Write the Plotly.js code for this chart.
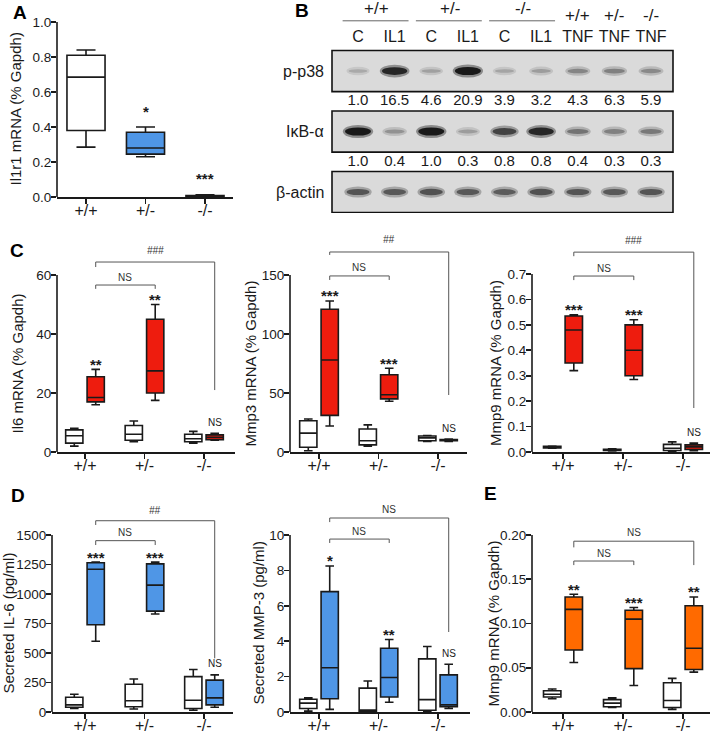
<!DOCTYPE html>
<html><head><meta charset="utf-8">
<script src="https://cdn.plot.ly/plotly-3.0.1.min.js"></script>
<style>html,body{margin:0;padding:0;background:#fff}#chart{width:713px;height:734px}</style>
</head><body><div id="chart"></div>
<script>
// ---------------- DATA ----------------
const genotypes = ['+/+', '+/-', '-/-'];
// five-number summaries per genotype: [lowerWhisker, q1, median, q3, upperWhisker]
const il1r1 = [[0.285, 0.38, 0.685, 0.81, 0.84], [0.23, 0.245, 0.28, 0.37, 0.40], [0.002, 0.004, 0.006, 0.009, 0.012]];
const il1r1Sig = ['', '*', '***'];

const il6Ctrl = [[2, 3, 5.5, 7.5, 8], [3.5, 4, 6, 9, 10.5], [3, 3.5, 4.5, 6, 7]];
const il6IL1  = [[16, 17, 18.5, 25.5, 28], [17.5, 20, 27.5, 45, 50], [4, 4.2, 5, 5.8, 6.3]];
const il6Sig  = ['**', '**', 'NS'];

const mmp3Ctrl = [[1, 4, 16, 26.5, 28], [5, 6, 9.5, 19.5, 23], [9, 9.5, 12, 13.5, 14]];
const mmp3IL1  = [[22, 31, 78, 121, 128], [43, 45, 48.5, 65.5, 71], [9, 9.5, 10, 10.5, 11]];
const mmp3Sig  = ['***', '***', 'NS'];

const mmp9Ctrl = [[0.015, 0.016, 0.019, 0.022, 0.023], [0.004, 0.006, 0.008, 0.011, 0.013], [0.003, 0.006, 0.015, 0.03, 0.04]];
const mmp9IL1  = [[0.32, 0.35, 0.48, 0.535, 0.54], [0.285, 0.30, 0.40, 0.50, 0.52], [0.005, 0.01, 0.02, 0.028, 0.035]];
const mmp9Sig  = ['***', '***', 'NS'];

const secIl6Ctrl = [[30, 40, 60, 125, 150], [25, 45, 95, 235, 280], [15, 30, 100, 300, 360]];
const secIl6IL1  = [[600, 740, 1210, 1265, 1270], [830, 855, 1075, 1255, 1270], [40, 60, 120, 270, 315]];
const secIl6Sig  = ['***', '***', 'NS'];

const secMmp3Ctrl = [[0.05, 0.2, 0.5, 0.72, 0.8], [0.02, 0.05, 0.1, 1.35, 1.75], [0.05, 0.1, 0.7, 3.0, 3.7]];
const secMmp3IL1  = [[0.15, 0.75, 2.5, 6.8, 8.25], [0.55, 0.85, 1.95, 3.6, 4.1], [0.2, 0.3, 0.4, 2.1, 2.7]];
const secMmp3Sig  = ['*', '**', 'NS'];

const mmp9eCtrl = [[0.015, 0.017, 0.02, 0.024, 0.026], [0.005, 0.006, 0.01, 0.014, 0.016], [0.003, 0.005, 0.013, 0.033, 0.038]];
const mmp9eTrt  = [[0.056, 0.07, 0.116, 0.13, 0.133], [0.03, 0.049, 0.105, 0.115, 0.118], [0.045, 0.048, 0.072, 0.12, 0.13]];
const mmp9eSig  = ['**', '***', '**'];

// Western blot (panel B)
const lanes = ['C', 'IL1', 'C', 'IL1', 'C', 'IL1', 'TNF', 'TNF', 'TNF'];
const blotRows = ['p-p38', 'I\u03baB-\u03b1', '\u03b2-actin'];
const pp38Quant = ['1.0', '16.5', '4.6', '20.9', '3.9', '3.2', '4.3', '6.3', '5.9'];
const ikbQuant  = ['1.0', '0.4', '1.0', '0.3', '0.8', '0.8', '0.4', '0.3', '0.3'];
// visual band darkness (0 = none, 1 = black)
const pp38Band  = [0.15, 0.88, 0.2, 0.95, 0.18, 0.22, 0.35, 0.38, 0.33];
const ikbBand   = [0.95, 0.28, 0.95, 0.22, 0.72, 0.88, 0.45, 0.38, 0.42];
const actinBand = [0.62, 0.6, 0.64, 0.6, 0.58, 0.64, 0.62, 0.6, 0.62];

// ---------------- LAYOUT ----------------
const W = 713, H = 734;
const FONT = 'Liberation Sans, Arial, Helvetica, sans-serif';
const INK = '#1a1a1a';
const BLUE = '#4f96e6', RED = '#ee1c0e', ORANGE = '#ff6a00', WHITE = '#ffffff';
const OFF = 0.18, BW = 0.29;
const sfx = n => (n === 1 ? '' : String(n));

const layout = {
  width: W, height: H, autosize: false,
  margin: {l: 0, r: 0, t: 0, b: 0},
  paper_bgcolor: '#fff', plot_bgcolor: 'rgba(0,0,0,0)',
  showlegend: false,
  font: {family: FONT, size: 14, color: INK},
  shapes: [], annotations: []
};
const traces = [];

const panels = [
  {n: 1, L: 57, R: 233, t0: 86, t2: 205, B: 197, Tp: 22, T: 1.0, E: 1.0, dt: 0.2, fmt: '.1f', title: 'Il1r1 mRNA (% Gapdh)', tx: 15},
  {n: 2, L: 57, R: 235, t0: 85, t2: 204, B: 452, Tp: 275, T: 60, E: 66, dt: 20, fmt: 'd', title: 'Il6 mRNA (% Gapdh)', tx: 17},
  {n: 3, L: 290, R: 467, t0: 319, t2: 438, B: 452, Tp: 275, T: 150, E: 172, dt: 50, fmt: 'd', title: 'Mmp3 mRNA (% Gapdh)', tx: 250},
  {n: 4, L: 532, R: 710, t0: 563, t2: 683, B: 452, Tp: 274, T: 0.7, E: 0.8, dt: 0.1, fmt: '.1f', title: 'Mmp9 mRNA (% Gapdh)', tx: 495},
  {n: 5, L: 52, R: 233, t0: 85, t2: 204, B: 712, Tp: 535, T: 1500, E: 1640, dt: 250, fmt: 'd', title: 'Secreted IL-6 (pg/ml)', tx: 8},
  {n: 6, L: 290, R: 470, t0: 319, t2: 438, B: 712, Tp: 535, T: 10, E: 11.1, dt: 2, fmt: 'd', title: 'Secreted MMP-3 (pg/ml)', tx: 258},
  {n: 7, L: 532, R: 710, t0: 563, t2: 683, B: 712, Tp: 535, T: 0.2, E: 0.2, dt: 0.05, fmt: '.2f', title: 'Mmp9 mRNA (% Gapdh)', tx: 493}
];

panels.forEach(p => {
  const s = (p.t2 - p.t0) / 2;
  const ppu = (p.B - p.Tp) / p.T;
  const topPx = p.B - ppu * p.E;
  const tv = [];
  for (let k = 0; k * p.dt <= p.T + 1e-9; k++) tv.push(+(k * p.dt).toFixed(4));
  layout['xaxis' + sfx(p.n)] = {
    domain: [p.L / W, p.R / W], range: [(p.L - p.t0) / s, (p.R - p.t0) / s],
    anchor: 'y' + sfx(p.n), tickmode: 'array', tickvals: [0, 1, 2], ticktext: genotypes,
    showline: true, linecolor: INK, linewidth: 1.6, ticks: 'outside', ticklen: 5, tickwidth: 1.6,
    tickcolor: INK, showgrid: false, zeroline: false, fixedrange: true, ticklabelstandoff: -7,
    tickfont: {family: FONT, size: 16, color: INK}
  };
  layout['yaxis' + sfx(p.n)] = {
    domain: [1 - p.B / H, 1 - topPx / H], range: [0, p.E],
    anchor: 'x' + sfx(p.n), tickmode: 'array', tickvals: tv, tickformat: p.fmt,
    showline: false, ticks: 'outside', ticklen: 5, tickwidth: 1.6, tickcolor: INK,
    showgrid: false, zeroline: false, fixedrange: true, ticklabelstandoff: -3,
    tickfont: {family: FONT, size: 13.5, color: INK}
  };
  layout.shapes.push({type: 'line', xref: 'x' + sfx(p.n) + ' domain', x0: 0, x1: 0,
    yref: 'y' + sfx(p.n), y0: 0, y1: p.T, line: {color: INK, width: 1.6}});
  layout.annotations.push({xref: 'paper', x: p.tx / W, yref: 'y' + sfx(p.n), y: p.T / 2,
    text: p.title, textangle: -90, showarrow: false, xanchor: 'center', yanchor: 'middle',
    font: {family: FONT, size: 15, color: INK}});
});

function boxes(n, stats, dx, fill, width) {
  traces.push({
    type: 'box', xaxis: 'x' + sfx(n), yaxis: 'y' + sfx(n),
    x: stats.map((_, i) => i + dx),
    lowerfence: stats.map(v => v[0]), q1: stats.map(v => v[1]), median: stats.map(v => v[2]),
    q3: stats.map(v => v[3]), upperfence: stats.map(v => v[4]),
    fillcolor: fill, line: {color: INK, width: 1.6}, width: width, whiskerwidth: 0.5,
    boxpoints: false, hoverinfo: 'skip', showlegend: false
  });
}
function sig(n, stats, dx, labels, starShift, nsShift) {
  labels.forEach((t, i) => {
    if (!t) return;
    const ns = t === 'NS';
    layout.annotations.push({xref: 'x' + sfx(n), yref: 'y' + sfx(n), x: i + dx, y: stats[i][4],
      yshift: ns ? nsShift : starShift, yanchor: 'middle', xanchor: 'center', showarrow: false,
      text: ns ? t : '<b>' + t + '</b>',
      font: {family: FONT, size: ns ? 10 : 15, color: INK}});
  });
}
function bracket(n, x0, x1, y, legL, legR, label, shift, italic) {
  traces.push({type: 'scatter', mode: 'lines', xaxis: 'x' + sfx(n), yaxis: 'y' + sfx(n),
    x: [x0, x0, x1, x1], y: [legL, y, y, legR], line: {color: '#555', width: 1},
    hoverinfo: 'skip', showlegend: false});
  layout.annotations.push({xref: 'x' + sfx(n), yref: 'y' + sfx(n), x: (x0 + x1) / 2, y: y,
    yshift: shift, yanchor: 'middle', showarrow: false,
    text: italic ? '<i>' + label + '</i>' : label, font: {family: FONT, size: 10, color: '#333'}});
}

// Panel A: one box per genotype (the +/- box is filled blue)
il1r1.forEach((st, i) => {
  traces.push({
    type: 'box', xaxis: 'x', yaxis: 'y', x: [i],
    lowerfence: [st[0]], q1: [st[1]], median: [st[2]], q3: [st[3]], upperfence: [st[4]],
    fillcolor: i === 1 ? BLUE : WHITE, line: {color: INK, width: 1.6}, width: 0.64, whiskerwidth: 0.5,
    boxpoints: false, hoverinfo: 'skip', showlegend: false
  });
});
sig(1, il1r1, 0, il1r1Sig, 16, 14);

// Panel C
boxes(2, il6Ctrl, -OFF, WHITE, BW); boxes(2, il6IL1, OFF, RED, BW);
sig(2, il6IL1, OFF, il6Sig, 5, 11);
bracket(2, OFF, 1 + OFF, 56.6, 55.3, 55.3, 'NS', 8, false);
bracket(2, OFF, 2 + OFF, 64.4, 62.7, 21.0, '###', 12, true);

boxes(3, mmp3Ctrl, -OFF, WHITE, BW); boxes(3, mmp3IL1, OFF, RED, BW);
sig(3, mmp3IL1, OFF, mmp3Sig, 5, 11);
bracket(3, OFF, 1 + OFF, 149.2, 145.8, 145.8, 'NS', 8, false);
bracket(3, OFF, 2 + OFF, 169.5, 167, 48.3, '##', 12, true);

boxes(4, mmp9Ctrl, -OFF, WHITE, BW); boxes(4, mmp9IL1, OFF, RED, BW);
sig(4, mmp9IL1, OFF, mmp9Sig, 5, 11);
bracket(4, OFF, 1 + OFF, 0.692, 0.676, 0.676, 'NS', 8, false);
bracket(4, OFF, 2 + OFF, 0.786, 0.77, 0.173, '###', 12, true);

// Panel D
boxes(5, secIl6Ctrl, -OFF, WHITE, BW); boxes(5, secIl6IL1, OFF, BLUE, BW);
sig(5, secIl6IL1, OFF, secIl6Sig, 5, 11);
bracket(5, OFF, 1 + OFF, 1452, 1415, 1415, 'NS', 8, false);
bracket(5, OFF, 2 + OFF, 1621, 1585, 455, '##', 10, true);

boxes(6, secMmp3Ctrl, -OFF, WHITE, BW); boxes(6, secMmp3IL1, OFF, BLUE, BW);
sig(6, secMmp3IL1, OFF, secMmp3Sig, 5, 11);
bracket(6, OFF, 1 + OFF, 9.77, 9.55, 9.55, 'NS', 8, false);
bracket(6, OFF, 2 + OFF, 10.96, 10.73, 4.52, 'NS', 9, false);

// Panel E
boxes(7, mmp9eCtrl, -OFF, WHITE, BW); boxes(7, mmp9eTrt, OFF, ORANGE, BW);
sig(7, mmp9eTrt, OFF, mmp9eSig, 5, 11);
bracket(7, OFF, 1 + OFF, 0.1706, 0.166, 0.166, 'NS', 8, false);
bracket(7, OFF, 2 + OFF, 0.193, 0.186, 0.166, 'NS', 9, false);

// ---------------- Panel B: blot ----------------
const laneIdx = lanes.map((_, i) => i);
layout.xaxis8 = {domain: [332 / W, 673 / W], range: [-0.71, 8.6], visible: false, fixedrange: true, anchor: 'y8'};
layout.yaxis8 = {domain: [1 - 213 / H, 1], range: [2.347, -1.174], visible: false, fixedrange: true, anchor: 'x8'};
const ROWPX = 60.5;
[pp38Band, ikbBand, actinBand].forEach((bands, r) => {
  layout.shapes.push({type: 'rect', xref: 'x8 domain', x0: 0, x1: 1, yref: 'y8', y0: r - 0.34, y1: r + 0.34,
    fillcolor: '#dadada', line: {color: '#111', width: 1.6}});
  bands.forEach((d, i) => {
    const hw = 0.24 + 0.12 * d;
    const hPx = 2.5 + 6 * d;
    const g1 = Math.round(210 - 75 * d), g2 = Math.round(196 - 180 * d);
    layout.shapes.push({type: 'circle', xref: 'x8', yref: 'y8', x0: i - hw - 0.06, x1: i + hw + 0.06,
      y0: r - (hPx / 2 + 2.5) / ROWPX, y1: r + (hPx / 2 + 2.5) / ROWPX,
      fillcolor: `rgb(${g1},${g1},${g1})`, line: {width: 0}});
    layout.shapes.push({type: 'circle', xref: 'x8', yref: 'y8', x0: i - hw, x1: i + hw,
      y0: r - hPx / 2 / ROWPX, y1: r + hPx / 2 / ROWPX,
      fillcolor: `rgb(${g2},${g2},${g2})`, line: {width: 0}});
  });
  layout.annotations.push({xref: 'paper', x: 326 / W, xanchor: 'right', yref: 'y8', y: r, yanchor: 'middle',
    text: blotRows[r], showarrow: false, font: {family: FONT, size: 16, color: INK}});
});
[[pp38Quant, 0.5], [ikbQuant, 1.5]].forEach(([q, yy]) => {
  traces.push({type: 'scatter', mode: 'text', xaxis: 'x8', yaxis: 'y8', x: laneIdx, y: laneIdx.map(() => yy),
    text: q, textposition: 'middle center', textfont: {family: FONT, size: 15, color: INK},
    cliponaxis: false, hoverinfo: 'skip', showlegend: false});
});
traces.push({type: 'scatter', mode: 'text', xaxis: 'x8', yaxis: 'y8', x: laneIdx, y: laneIdx.map(() => -0.545),
  text: lanes, textposition: 'middle center', textfont: {family: FONT, size: 16, color: INK},
  cliponaxis: false, hoverinfo: 'skip', showlegend: false});
// genotype group headers: IL1 pairs (with underline) and TNF singles
genotypes.forEach((g, k) => {
  const c = 2 * k + 0.5;
  layout.annotations.push({xref: 'x8', yref: 'y8', x: c, y: -1.04, text: g, showarrow: false,
    font: {family: FONT, size: 17, color: INK}});
  layout.shapes.push({type: 'line', xref: 'x8', yref: 'y8', x0: c - 0.92, x1: c + 0.88, y0: -0.83, y1: -0.83,
    line: {color: '#666', width: 1}});
  layout.annotations.push({xref: 'x8', yref: 'y8', x: 6 + k, y: -0.91, text: g, showarrow: false,
    font: {family: FONT, size: 17, color: INK}});
});

// panel letters
[['A', 20, 13], ['B', 302, 11], ['C', 17, 250], ['D', 18, 495], ['E', 490, 493]].forEach(([t, x, y]) => {
  layout.annotations.push({xref: 'paper', yref: 'paper', x: x / W, y: 1 - y / H, xanchor: 'center', yanchor: 'middle',
    text: '<b>' + t + '</b>', showarrow: false, font: {family: FONT, size: 19, color: '#000'}});
});

Plotly.newPlot('chart', traces, layout, {staticPlot: true, displayModeBar: false});
</script></body></html>
